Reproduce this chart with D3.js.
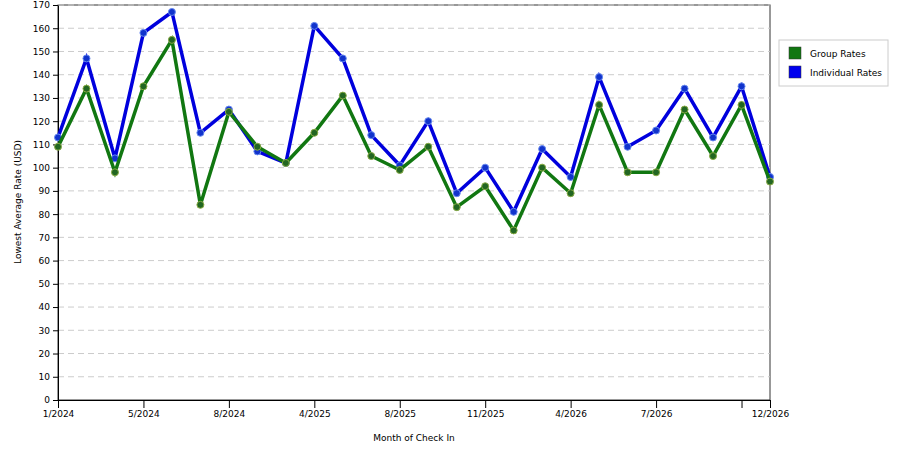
<!DOCTYPE html>
<html><head><meta charset="utf-8">
<script src="https://cdn.jsdelivr.net/npm/d3@7"></script>
<style>body{margin:0;background:#fff;font-family:"DejaVu Sans",sans-serif}</style>
</head><body><svg id="chart" width="900" height="450"></svg>
<script>
var months = ["1/2024","2/2024","3/2024","5/2024","6/2024","7/2024","8/2024","9/2024","10/2024",
  "4/2025","5/2025","6/2025","8/2025","9/2025","10/2025","11/2025","12/2025","3/2026",
  "4/2026","5/2026","6/2026","7/2026","8/2026","9/2026","10/2026","12/2026"];
var groupRates = [109,134,98,135,155,84,124,109,102,115,131,105,99,109,83,92,73,100,89,127,98,98,125,105,127,94];
var individualRates = [113,147,104,158,167,115,125,107,102,161,147,114,101,120,89,100,81,108,96,139,109,116,134,113,135,96];
var labelIdx = [0,3,6,9,12,15,18,21,25];
var tickIdx = [0,3,6,9,12,15,18,21,24,25];
var yTicks = d3.range(0,171,10);

var svg = d3.select('#chart');
var pLeft = 58, pRight = 770, pTop = 5, pBottom = 400;
var x = d3.scalePoint().domain(d3.range(months.length)).range([pLeft,pRight]);
var y = d3.scaleLinear().domain([0,170]).range([pBottom,pTop]);

svg.append('rect').attr('x',pLeft).attr('y',pTop).attr('width',pRight-pLeft).attr('height',pBottom-pTop)
  .attr('fill','none').attr('stroke','#333');
svg.selectAll('.grid').data(yTicks.slice(1)).enter().append('line')
  .attr('x1',pLeft).attr('x2',pRight).attr('y1',d=>y(d)).attr('y2',d=>y(d))
  .attr('stroke','#ccc').attr('stroke-dasharray','6,4');

var yAxis = svg.append('g').attr('transform','translate('+pLeft+',0)')
  .call(d3.axisLeft(y).tickValues(yTicks).tickSize(5).tickSizeOuter(0));
var xAxis = svg.append('g').attr('transform','translate(0,'+pBottom+')')
  .call(d3.axisBottom(x).tickValues(tickIdx).tickSize(8).tickSizeOuter(0)
    .tickFormat(i => labelIdx.indexOf(i) >= 0 ? months[i] : ''));
[yAxis,xAxis].forEach(function(g){
  g.selectAll('text').attr('font-size','9px').attr('fill','#000').attr('font-family','DejaVu Sans');
  g.selectAll('line,path').attr('stroke','#000');
});

svg.append('text').attr('x',414).attr('y',441).attr('text-anchor','middle')
  .attr('font-size','9px').text('Month of Check In');
svg.append('text').attr('transform','translate(21,202) rotate(-90)').attr('text-anchor','middle')
  .attr('font-size','9px').text('Lowest Average Rate (USD)');

var line = d3.line().x((d,i)=>x(i)).y(d=>y(d));
function series(vals, col, dot, edge){
  svg.append('path').datum(vals).attr('d',line).attr('fill','none')
    .attr('stroke',col).attr('stroke-width',3.5).attr('stroke-linejoin','miter');
  svg.append('g').selectAll('circle').data(vals).enter().append('circle')
    .attr('cx',(d,i)=>x(i)).attr('cy',d=>y(d)).attr('r',3.5)
    .attr('fill',dot).attr('stroke',edge).attr('stroke-width',1);
}
series(individualRates,'#0000dd','#1133cc','#6688ee');
series(groupRates,'#117711','#226622','#88aa44');

var lg = svg.append('g');
lg.append('rect').attr('x',779).attr('y',40).attr('width',109).attr('height',46)
  .attr('fill','#fff').attr('stroke','#ccc');
[['Group Rates','#117711'],['Individual Rates','#0000ee']].forEach(function(d,i){
  lg.append('rect').attr('x',789).attr('y',47+i*19).attr('width',12).attr('height',12)
    .attr('fill',d[1]).attr('stroke','#333').attr('stroke-width',0.5);
  lg.append('text').attr('x',810).attr('y',57+i*19).attr('font-size','9px').text(d[0]);
});
</script></body></html>
